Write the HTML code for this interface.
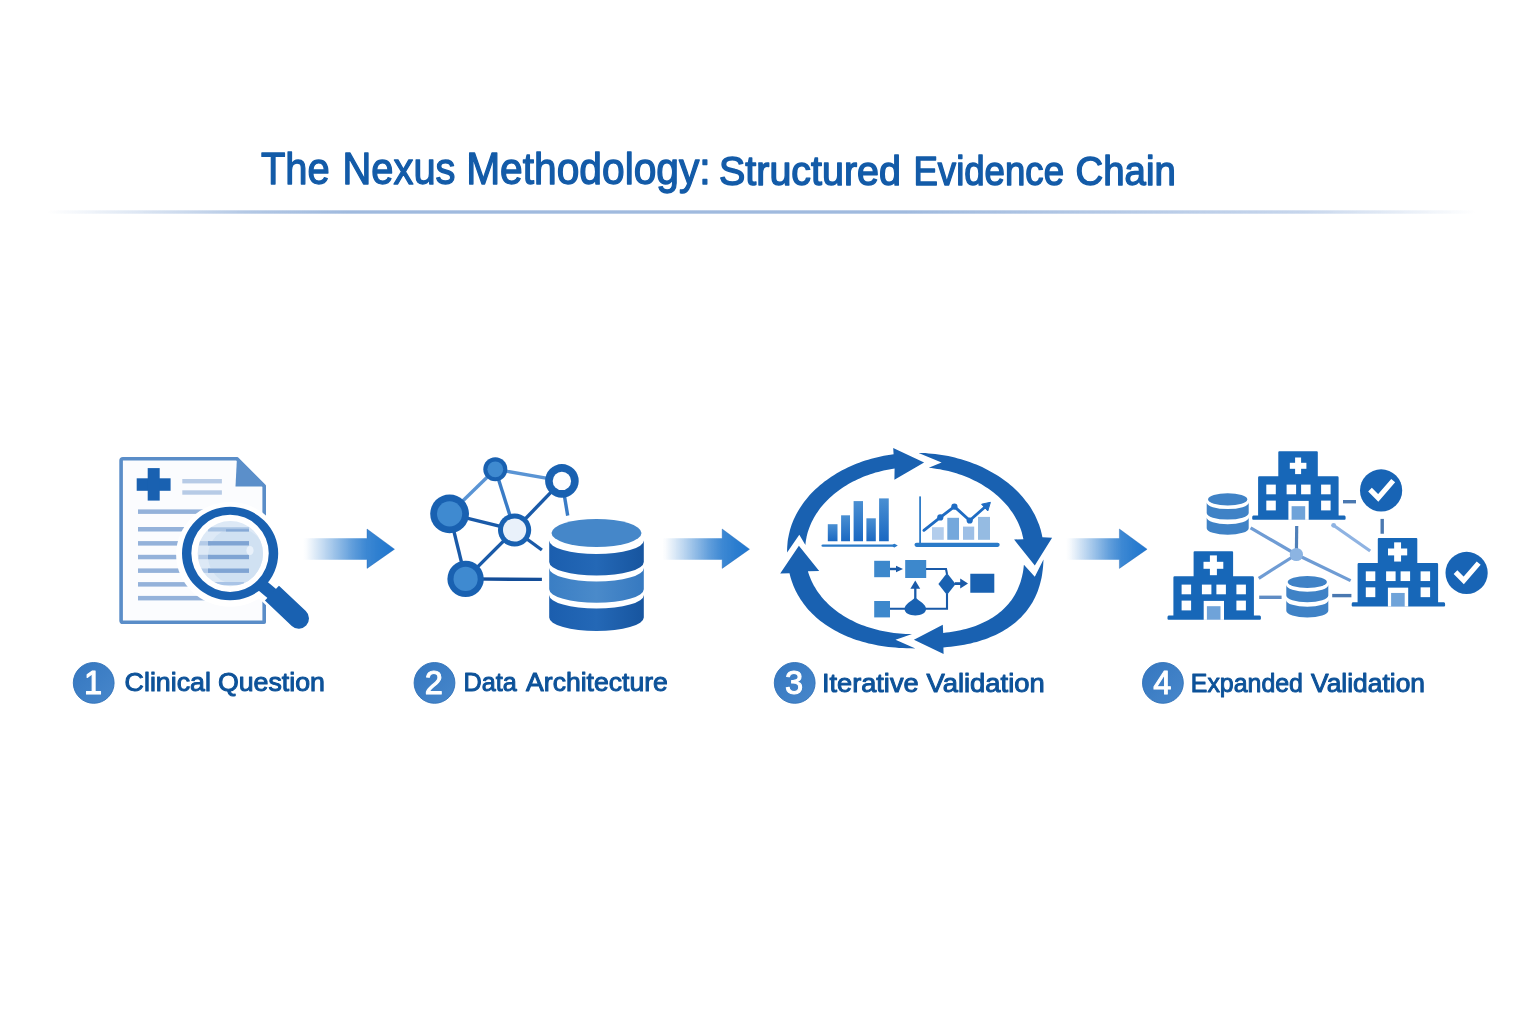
<!DOCTYPE html>
<html lang="en">
<head>
<meta charset="utf-8">
<title>The Nexus Methodology: Structured Evidence Chain</title>
<style>
html,body{margin:0;padding:0;background:#fff;}
body{width:1536px;height:1024px;overflow:hidden;font-family:"Liberation Sans",sans-serif;}
svg{display:block;position:absolute;left:0;top:0;will-change:transform;}
text{font-family:"Liberation Sans",sans-serif;}
</style>
</head>
<body>
<svg width="1536" height="1024" viewBox="0 0 1536 1024">
<defs>
<linearGradient id="rule" x1="0" x2="1" y1="0" y2="0">
<stop offset="0" stop-color="#a0bade" stop-opacity="0"/>
<stop offset="0.07" stop-color="#a0bade" stop-opacity="0.4"/>
<stop offset="0.14" stop-color="#a0bade" stop-opacity="0.8"/>
<stop offset="0.21" stop-color="#a0bade" stop-opacity="1"/>
<stop offset="0.6" stop-color="#a0bade" stop-opacity="1"/>
<stop offset="0.88" stop-color="#aec4e4" stop-opacity="0.7"/>
<stop offset="1" stop-color="#aec4e4" stop-opacity="0"/>
</linearGradient>
<linearGradient id="arr" x1="0" x2="1" y1="0" y2="0">
<stop offset="0" stop-color="#2e7fd0" stop-opacity="0"/>
<stop offset="0.04" stop-color="#2e7fd0" stop-opacity="0.03"/>
<stop offset="0.12" stop-color="#2e7fd0" stop-opacity="0.14"/>
<stop offset="0.23" stop-color="#2e7fd0" stop-opacity="0.3"/>
<stop offset="0.385" stop-color="#2e7fd0" stop-opacity="0.53"/>
<stop offset="0.54" stop-color="#2e7fd0" stop-opacity="0.76"/>
<stop offset="0.69" stop-color="#2e7fd0" stop-opacity="0.93"/>
<stop offset="0.85" stop-color="#2b7dcf" stop-opacity="1"/>
<stop offset="1" stop-color="#1f76d0" stop-opacity="1"/>
</linearGradient>
<linearGradient id="dbdark" x1="0" x2="1" y1="0" y2="0">
<stop offset="0" stop-color="#1b5eae"/>
<stop offset="0.5" stop-color="#2468b6"/>
<stop offset="1" stop-color="#17559f"/>
</linearGradient>
<linearGradient id="dbmid" x1="0" x2="1" y1="0" y2="0">
<stop offset="0" stop-color="#3a7ec4"/>
<stop offset="0.5" stop-color="#4a8aca"/>
<stop offset="1" stop-color="#3679c0"/>
</linearGradient>
<linearGradient id="bar" x1="0" x2="0" y1="0" y2="1">
<stop offset="0" stop-color="#4a8fd2"/>
<stop offset="1" stop-color="#1a68c2"/>
</linearGradient>
<radialGradient id="lens" cx="0.5" cy="0.5" r="0.5">
<stop offset="0" stop-color="#cfe0f2"/>
<stop offset="0.8" stop-color="#d8e6f5"/>
<stop offset="1" stop-color="#e8f0f9"/>
</radialGradient>
<linearGradient id="badge" x1="0" x2="1" y1="0" y2="1">
<stop offset="0" stop-color="#3577c0"/>
<stop offset="1" stop-color="#4787cb"/>
</linearGradient>
<clipPath id="lensclip"><circle cx="230.3" cy="553.6" r="32.7"/></clipPath>
</defs>

<g id="title">
<text fill="#135ba8" stroke="#135ba8" stroke-linejoin="round">
<tspan x="260.95" y="184.2" font-size="43.5" stroke-width="1.3" textLength="68.85" lengthAdjust="spacingAndGlyphs">The</tspan> <tspan x="342.56" y="184.2" font-size="43.5" stroke-width="1.3" textLength="112.92" lengthAdjust="spacingAndGlyphs">Nexus</tspan> <tspan x="466.15" y="184.2" font-size="43.5" stroke-width="1.3" textLength="244.54" lengthAdjust="spacingAndGlyphs">Methodology:</tspan> <tspan x="719.09" y="185.0" font-size="41" stroke-width="1.45" textLength="181.8" lengthAdjust="spacingAndGlyphs">Structured</tspan> <tspan x="913.43" y="185.0" font-size="41" stroke-width="1.45" textLength="150.57" lengthAdjust="spacingAndGlyphs">Evidence</tspan> <tspan x="1075.55" y="185.0" font-size="41" stroke-width="1.45" textLength="100.27" lengthAdjust="spacingAndGlyphs">Chain</tspan>
</text>
<rect x="48" y="210.3" width="1427" height="3.4" fill="url(#rule)"/>
</g>
<g id="flow-arrows">
<path d="M303 538.35 L367 538.35 L367 529.0 L394.5 549.2 L367 568.4000000000001 L367 559.85 L303 559.85 Z" fill="url(#arr)"/>
<path d="M367 538.35 L367 529.0 L394.5 549.2 L367 568.4000000000001 L367 559.85" fill="none" stroke="#1a62b4" stroke-opacity="0.55" stroke-width="0.7" stroke-linejoin="miter"/>
<path d="M662.3 538.35 L722.2 538.35 L722.2 529.0 L749.5 549.2 L722.2 568.4000000000001 L722.2 559.85 L662.3 559.85 Z" fill="url(#arr)"/>
<path d="M722.2 538.35 L722.2 529.0 L749.5 549.2 L722.2 568.4000000000001 L722.2 559.85" fill="none" stroke="#1a62b4" stroke-opacity="0.55" stroke-width="0.7" stroke-linejoin="miter"/>
<path d="M1066 538.35 L1119.4 538.35 L1119.4 529.0 L1147.1 549.2 L1119.4 568.4000000000001 L1119.4 559.85 L1066 559.85 Z" fill="url(#arr)"/>
<path d="M1119.4 538.35 L1119.4 529.0 L1147.1 549.2 L1119.4 568.4000000000001 L1119.4 559.85" fill="none" stroke="#1a62b4" stroke-opacity="0.55" stroke-width="0.7" stroke-linejoin="miter"/>
</g>
<g id="icon-document">
<path d="M123 458.7 L237 458.7 L264.2 486 L264.2 622.3 L123 622.3 Q121.1 622.3 121.1 620.4 L121.1 460.6 Q121.1 458.7 123 458.7 Z" fill="#fbfcfe" stroke="#5a8dc8" stroke-width="3.6" stroke-linejoin="round"/>
<path d="M237 457 L266 486.5 L235.5 486.5 Z" fill="#5b8fca"/>
<rect x="136.7" y="478.3" width="33.9" height="12.5" fill="#1961b1"/>
<rect x="147.7" y="468.1" width="12" height="32.5" fill="#1961b1"/>
<rect x="182.3" y="479" width="39.6" height="4.4" fill="#b7cbe6"/>
<rect x="182.3" y="490.3" width="39.6" height="4.4" fill="#b7cbe6"/>
<rect x="138" y="509.4" width="111.5" height="4.5" fill="#94b2da"/>
<rect x="138" y="527" width="111.5" height="4.5" fill="#94b2da"/>
<rect x="138" y="541.1" width="111.5" height="4.5" fill="#94b2da"/>
<rect x="138" y="554.8" width="111.5" height="4.5" fill="#94b2da"/>
<rect x="138" y="568.4" width="111.5" height="4.5" fill="#94b2da"/>
<rect x="138" y="582.1" width="111.5" height="4.5" fill="#94b2da"/>
<rect x="138" y="595.9" width="111.5" height="4.5" fill="#94b2da"/>
<ellipse cx="230.1" cy="554.4" rx="54" ry="52.3" fill="#ffffff"/>
<path d="M262 584 L286.5 607.5" stroke="#ffffff" stroke-width="25"/>
<circle cx="230.1" cy="553.4" r="39" fill="#ffffff"/>
<circle cx="230.3" cy="553.6" r="32.7" fill="#dde9f6"/>
<g clip-path="url(#lensclip)">
<circle cx="236.5" cy="556" r="28.5" fill="#d0e1f2"/>
<rect x="208" y="527.3" width="41" height="4.2" fill="#a9c4e4"/>
<rect x="226" y="529.2" width="23" height="2.3" fill="#86a9d6"/>
<rect x="198.5" y="541.1" width="12" height="4.4" fill="#b4cbe8"/>
<rect x="208" y="541.1" width="41" height="4.4" fill="#7fa4d3"/>
<rect x="198.5" y="554.8" width="12" height="4.4" fill="#b4cbe8"/>
<rect x="208" y="554.8" width="41" height="4.4" fill="#7fa4d3"/>
<rect x="198.5" y="568.5" width="12" height="4.4" fill="#b4cbe8"/>
<rect x="208" y="568.5" width="41" height="4.4" fill="#7fa4d3"/>
<rect x="214" y="582" width="30" height="3.2" fill="#a9c4e6"/>
<ellipse cx="250" cy="550.5" rx="3.6" ry="4.6" fill="#e9f1fa"/>
</g>
<path fill-rule="evenodd" d="M182 553.5 A48.1 46.8 0 1 0 278.2 553.5 A48.1 46.8 0 1 0 182 553.5 Z M191.35 553.3 A38.7 38.6 0 1 1 268.75 553.3 A38.7 38.6 0 1 1 191.35 553.3 Z" fill="#1961b1"/>
<path d="M258 582 L276 597" stroke="#1961b1" stroke-width="12.5"/>
<g transform="translate(271.95 593.05) rotate(43.5)"><path d="M0 -10.2 L37 -10.2 A10.2 10.2 0 0 1 37 10.2 L0 10.2 Z" fill="#1961b1"/></g>
</g>
<g id="icon-data">
<line x1="495.3" y1="469.3" x2="449.6" y2="513.8" stroke="#5a94d4" stroke-width="3.4"/>
<line x1="495.3" y1="469.3" x2="561.9" y2="480.9" stroke="#5a94d4" stroke-width="3.4"/>
<line x1="495.3" y1="469.3" x2="514.6" y2="530.0" stroke="#3a7cc6" stroke-width="3.4"/>
<line x1="561.9" y1="480.9" x2="514.6" y2="530.0" stroke="#1a5aa8" stroke-width="3.4"/>
<line x1="449.6" y1="513.8" x2="514.6" y2="530.0" stroke="#1a5aa8" stroke-width="3.4"/>
<line x1="449.6" y1="513.8" x2="465.6" y2="578.9" stroke="#1a5aa8" stroke-width="3.4"/>
<line x1="514.6" y1="530.0" x2="465.6" y2="578.9" stroke="#1a5aa8" stroke-width="3.4"/>
<line x1="561.9" y1="480.9" x2="567.7" y2="515.6" stroke="#3a7cc6" stroke-width="3.4"/>
<line x1="514.6" y1="530.0" x2="541.9" y2="550" stroke="#1a5aa8" stroke-width="3.4"/>
<line x1="465.6" y1="578.9" x2="541.9" y2="579.4" stroke="#134d98" stroke-width="3.4"/>
<circle cx="495.3" cy="469.3" r="12.0" fill="#1961b1"/>
<circle cx="495.3" cy="469.3" r="7.9" fill="#3f8ad0"/>
<circle cx="561.9" cy="480.9" r="16.8" fill="#1961b1"/>
<circle cx="561.9" cy="480.9" r="9.2" fill="#fcfdff"/>
<circle cx="449.6" cy="513.8" r="19.4" fill="#1961b1"/>
<circle cx="449.6" cy="513.8" r="12.6" fill="#3f8ad0"/>
<circle cx="514.6" cy="530.0" r="16.6" fill="#1961b1"/>
<circle cx="514.6" cy="530.0" r="11.6" fill="#e9f1fa"/>
<circle cx="465.6" cy="578.9" r="18.2" fill="#1961b1"/>
<circle cx="465.6" cy="578.9" r="12.1" fill="#3f8ad0"/>
<path d="M549.2 540.5 A47.3 13.5 0 0 0 643.8 540.5 L643.8 562 A47.3 13.5 0 0 1 549.2 562 Z" fill="url(#dbdark)"/>
<path d="M549.2 568 A47.3 13.5 0 0 0 643.8 568 L643.8 589.3 A47.3 13.5 0 0 1 549.2 589.3 Z" fill="url(#dbmid)"/>
<path d="M549.2 595 A47.3 13.5 0 0 0 643.8 595 L643.8 617.5 A47.3 13.5 0 0 1 549.2 617.5 Z" fill="url(#dbdark)"/>
<ellipse cx="596.5" cy="533" rx="45" ry="14" fill="#4587c9"/>
</g>
<g id="icon-cycle">
<path d="M787.1 552.6 L787.1 549.5 L787.2 546.9 L787.4 544.4 L787.6 541.9 L787.9 539.4 L788.4 536.9 L788.9 534.4 L789.5 532.0 L790.1 529.5 L790.9 527.1 L791.7 524.6 L792.6 522.2 L793.6 519.8 L794.7 517.4 L795.9 515.1 L797.1 512.8 L798.4 510.5 L799.8 508.2 L801.3 505.9 L802.8 503.7 L804.4 501.5 L806.1 499.4 L807.9 497.2 L809.7 495.1 L811.6 493.1 L813.6 491.1 L815.7 489.1 L817.8 487.2 L819.9 485.3 L822.2 483.4 L824.5 481.6 L826.8 479.9 L829.2 478.2 L831.7 476.5 L834.2 474.9 L836.8 473.3 L839.5 471.8 L842.1 470.3 L844.9 468.9 L847.7 467.6 L850.5 466.3 L853.3 465.0 L856.2 463.8 L859.2 462.7 L862.2 461.6 L865.2 460.6 L868.2 459.7 L871.3 458.8 L874.4 458.0 L877.6 457.2 L880.7 456.5 L883.9 455.8 L887.1 455.2 L890.4 454.7 L893.6 454.3 L893.2 447.9 L924.1 462.4 L894.4 479.8 L894.6 468.5 L891.8 468.9 L889.1 469.4 L886.3 470.0 L883.6 470.5 L880.9 471.2 L878.2 471.9 L875.5 472.6 L872.9 473.4 L870.3 474.3 L867.7 475.2 L865.2 476.1 L862.7 477.1 L860.2 478.2 L857.8 479.3 L855.4 480.4 L853.0 481.6 L850.7 482.8 L848.4 484.1 L846.2 485.4 L844.0 486.8 L841.8 488.2 L839.7 489.7 L837.7 491.2 L835.7 492.7 L833.8 494.3 L831.9 495.9 L830.1 497.6 L828.3 499.2 L826.6 501.0 L824.9 502.7 L823.3 504.5 L821.8 506.3 L820.3 508.1 L818.9 510.0 L817.6 511.9 L816.3 513.8 L815.1 515.8 L813.9 517.8 L812.9 519.8 L811.8 521.8 L810.9 523.8 L810.0 525.9 L809.2 527.9 L808.5 530.0 L807.8 532.1 L807.2 534.2 L806.7 536.3 L806.3 538.5 L805.9 540.6 L805.6 542.8 L805.4 544.9 L799.3 534.8 Z" fill="#1961b1"/>
<path d="M918.6 452.9 L921.9 453.0 L925.3 453.1 L928.6 453.4 L931.9 453.7 L935.2 454.0 L938.5 454.5 L941.8 455.0 L945.1 455.5 L948.3 456.1 L951.6 456.8 L954.8 457.6 L957.9 458.4 L961.1 459.3 L964.2 460.2 L967.3 461.2 L970.3 462.3 L973.3 463.4 L976.3 464.6 L979.2 465.8 L982.1 467.1 L984.9 468.5 L987.7 469.9 L990.4 471.4 L993.1 472.9 L995.8 474.4 L998.3 476.1 L1000.9 477.7 L1003.3 479.5 L1005.7 481.2 L1008.1 483.1 L1010.4 484.9 L1012.6 486.8 L1014.7 488.8 L1016.8 490.8 L1018.8 492.8 L1020.8 494.9 L1022.6 497.0 L1024.4 499.2 L1026.1 501.4 L1027.8 503.6 L1029.4 505.8 L1030.9 508.1 L1032.3 510.4 L1033.6 512.8 L1034.9 515.1 L1036.0 517.5 L1037.1 519.9 L1038.1 522.4 L1039.1 524.8 L1039.9 527.3 L1040.7 529.8 L1041.3 532.3 L1041.9 534.8 L1042.4 537.3 L1052.1 537.8 L1034.8 565.4 L1014.1 539.5 L1023.4 539.2 L1022.9 537.0 L1022.4 534.9 L1021.9 532.8 L1021.2 530.6 L1020.5 528.5 L1019.7 526.4 L1018.8 524.3 L1017.9 522.3 L1016.9 520.2 L1015.8 518.2 L1014.7 516.2 L1013.5 514.3 L1012.2 512.3 L1010.8 510.4 L1009.4 508.5 L1008.0 506.6 L1006.4 504.8 L1004.8 503.0 L1003.1 501.2 L1001.4 499.5 L999.6 497.7 L997.8 496.1 L995.9 494.4 L993.9 492.8 L991.9 491.3 L989.9 489.8 L987.8 488.3 L985.6 486.9 L983.4 485.5 L981.1 484.1 L978.8 482.8 L976.5 481.6 L974.1 480.4 L971.7 479.2 L969.2 478.1 L966.7 477.1 L964.2 476.1 L961.6 475.1 L959.0 474.2 L956.4 473.3 L953.7 472.5 L951.0 471.8 L948.3 471.1 L945.6 470.5 L942.8 469.9 L940.0 469.3 L937.2 468.9 L934.4 468.5 L931.6 468.1 L928.8 467.8 L941.6 462.4 Z" fill="#1961b1"/>
<path d="M1043.5 559.4 L1043.3 562.9 L1043.1 566.2 L1042.8 569.3 L1042.4 572.3 L1042.0 575.2 L1041.5 577.9 L1040.9 580.6 L1040.2 583.2 L1039.5 585.8 L1038.7 588.2 L1037.9 590.7 L1037.0 593.0 L1036.0 595.3 L1035.0 597.6 L1033.8 599.8 L1032.7 601.9 L1031.4 604.0 L1030.1 606.1 L1028.7 608.1 L1027.3 610.0 L1025.8 612.0 L1024.2 613.8 L1022.6 615.6 L1020.9 617.4 L1019.1 619.1 L1017.3 620.8 L1015.4 622.4 L1013.4 624.0 L1011.4 625.5 L1009.3 627.0 L1007.2 628.4 L1005.0 629.8 L1002.7 631.2 L1000.4 632.5 L998.0 633.7 L995.6 634.9 L993.1 636.0 L990.5 637.1 L987.9 638.2 L985.2 639.2 L982.4 640.1 L979.6 641.0 L976.7 641.9 L973.7 642.6 L970.7 643.4 L967.6 644.1 L964.4 644.7 L961.1 645.3 L957.8 645.8 L954.3 646.3 L950.8 646.8 L947.2 647.1 L943.4 647.5 L943.6 654.1 L913.9 639.8 L942.8 624.8 L943.2 632.9 L946.3 632.6 L949.3 632.2 L952.2 631.8 L955.1 631.3 L957.8 630.8 L960.5 630.2 L963.2 629.6 L965.8 628.9 L968.3 628.2 L970.8 627.5 L973.2 626.7 L975.5 625.9 L977.8 625.0 L980.1 624.1 L982.2 623.1 L984.4 622.1 L986.5 621.1 L988.5 620.0 L990.5 618.8 L992.4 617.7 L994.2 616.5 L996.0 615.2 L997.8 613.9 L999.5 612.6 L1001.2 611.2 L1002.8 609.8 L1004.3 608.3 L1005.8 606.8 L1007.2 605.3 L1008.6 603.7 L1009.9 602.1 L1011.2 600.4 L1012.4 598.7 L1013.5 597.0 L1014.6 595.2 L1015.7 593.3 L1016.6 591.5 L1017.6 589.5 L1018.4 587.6 L1019.2 585.6 L1020.0 583.5 L1020.7 581.4 L1021.3 579.2 L1021.9 577.0 L1022.4 574.7 L1022.9 572.4 L1023.3 569.9 L1023.6 567.4 L1023.9 564.8 L1034.8 576.8 Z" fill="#1961b1"/>
<path d="M915.4 648.4 L910.7 648.3 L906.7 648.2 L902.8 648.1 L899.1 647.9 L895.4 647.6 L891.9 647.3 L888.4 646.9 L884.9 646.5 L881.6 646.0 L878.2 645.4 L875.0 644.8 L871.8 644.1 L868.6 643.4 L865.5 642.6 L862.4 641.7 L859.4 640.8 L856.4 639.9 L853.5 638.9 L850.6 637.8 L847.8 636.7 L845.0 635.5 L842.3 634.3 L839.6 633.0 L837.0 631.6 L834.5 630.3 L832.0 628.8 L829.6 627.3 L827.2 625.8 L824.9 624.2 L822.6 622.6 L820.4 620.9 L818.3 619.2 L816.2 617.4 L814.2 615.6 L812.3 613.7 L810.4 611.8 L808.6 609.9 L806.9 607.9 L805.2 605.8 L803.6 603.7 L802.1 601.6 L800.6 599.5 L799.3 597.3 L797.9 595.0 L796.7 592.8 L795.5 590.5 L794.4 588.1 L793.4 585.7 L792.5 583.3 L791.6 580.8 L790.8 578.3 L790.1 575.8 L789.5 573.2 L780.2 573.4 L798.9 545.7 L819.2 571.1 L807.9 571.3 L808.6 573.4 L809.3 575.5 L810.1 577.6 L811.0 579.7 L811.9 581.7 L812.9 583.7 L813.9 585.7 L815.1 587.6 L816.2 589.6 L817.5 591.4 L818.8 593.3 L820.2 595.1 L821.6 596.9 L823.1 598.7 L824.7 600.4 L826.3 602.1 L827.9 603.8 L829.7 605.4 L831.5 607.0 L833.3 608.5 L835.2 610.1 L837.1 611.5 L839.1 613.0 L841.2 614.3 L843.3 615.7 L845.4 617.0 L847.6 618.3 L849.8 619.5 L852.1 620.6 L854.4 621.8 L856.8 622.9 L859.2 623.9 L861.7 624.9 L864.2 625.8 L866.7 626.7 L869.3 627.6 L871.9 628.3 L874.5 629.1 L877.2 629.8 L879.9 630.4 L882.6 631.0 L885.4 631.6 L888.2 632.1 L891.0 632.5 L893.9 632.9 L896.8 633.2 L899.7 633.5 L902.7 633.7 L905.7 633.9 L908.8 634.0 L912.0 634.1 L895.5 639.8 Z" fill="#1961b1"/>
<rect x="827.8" y="524.2" width="9.7" height="17.05" fill="url(#bar)"/>
<rect x="841.1" y="515.3" width="8.9" height="25.95" fill="url(#bar)"/>
<rect x="853.6" y="501.1" width="9.4" height="40.15" fill="url(#bar)"/>
<rect x="866.4" y="518.3" width="9.4" height="22.95" fill="url(#bar)"/>
<rect x="879.1" y="498.4" width="9.65" height="42.85" fill="url(#bar)"/>
<path d="M821.4 545.7 Q821.4 544.6 823 544.6 L892.5 544.5 L894.5 543.7 L897.8 545.6 L894.5 547.5 L892.5 546.8 L823 546.8 Q821.4 546.8 821.4 545.7 Z" fill="#2a7ac8"/>
<rect x="919.2" y="496.4" width="1.8" height="48.5" fill="#2f7cc8"/>
<rect x="914.5" y="542.7" width="85.2" height="4.2" rx="2.1" fill="#2a7ac8"/>
<rect x="932" y="527.2" width="11.75" height="12.6" fill="#b3cdec"/>
<rect x="947.3" y="517.8" width="11.7" height="22.0" fill="#74a8dc"/>
<rect x="963" y="526.6" width="11.2" height="13.2" fill="#9dbfe6"/>
<rect x="978" y="516.9" width="12" height="22.9" fill="#95bbe2"/>
<polyline points="923.9,530.3 940.3,517.4 954.4,506.6 969.7,520.5 985,507" fill="none" stroke="#1f6cc3" stroke-width="2.9" stroke-linejoin="round" stroke-linecap="round"/>
<path d="M990.4 502.3 L981.6 504.2 L987.8 511 Z" fill="#1f6cc3" stroke="#1f6cc3" stroke-width="1" stroke-linejoin="round"/>
<circle cx="940.3" cy="517.4" r="3.1" fill="#1f6cc3"/>
<circle cx="954.4" cy="506.6" r="3.1" fill="#1f6cc3"/>
<circle cx="969.7" cy="520.5" r="3.1" fill="#1f6cc3"/>
<rect x="874.2" y="560.8" width="15.8" height="16.4" fill="#3d88cc"/>
<rect x="905.2" y="560" width="21" height="18" fill="#3d88cc"/>
<rect x="874.2" y="601" width="15.8" height="16.4" fill="#3d88cc"/>
<rect x="970.3" y="573.75" width="24" height="19" fill="#1961b1"/>
<path d="M947 572.9 L955.6 583.9 L947 594.9 L938.4 583.9 Z" fill="#1961b1"/>
<path d="M926 569 L946 569 L947 574" fill="none" stroke="#1a5aa8" stroke-width="2.1"/>
<path d="M890 569 L899 569" fill="none" stroke="#1a5aa8" stroke-width="2.4"/>
<path d="M896 565.8 L903 569 L896 572.2 Z" fill="#1a5aa8"/>
<path d="M955 583.6 L962 583.6" fill="none" stroke="#1a5aa8" stroke-width="2.8"/>
<path d="M960.2 578.6 L968 583.6 L960.2 588.6 Z" fill="#1a5aa8"/>
<path d="M890 608.75 L947 608.75 L947 594" fill="none" stroke="#1a5aa8" stroke-width="2.1"/>
<path d="M915.3 600 L915.3 587" fill="none" stroke="#1a5aa8" stroke-width="2.3"/>
<path d="M910.4 588.8 L915.3 580.6 L920.2 588.8 Z" fill="#1a5aa8"/>
<path d="M904.6 609 C904.6 604.5 910.5 601.8 915.3 597.6 C920.1 601.8 926 604.5 926 609 C926 613.3 921 615.4 915.3 615.4 C909.6 615.4 904.6 613.3 904.6 609 Z" fill="#1961b1"/>
</g>
<g id="icon-network">
<line x1="1250.6" y1="527.8" x2="1296.4" y2="554.5" stroke="#6f9cd4" stroke-width="3.2"/>
<line x1="1296.7" y1="526" x2="1296.4" y2="554.5" stroke="#4f7fb8" stroke-width="3.2"/>
<line x1="1296.4" y1="554.5" x2="1258.75" y2="578.3" stroke="#6f9cd4" stroke-width="3.2"/>
<line x1="1296.4" y1="554.5" x2="1350.6" y2="580.6" stroke="#6f9cd4" stroke-width="3.2"/>
<line x1="1333.4" y1="525.2" x2="1370.2" y2="551" stroke="#8fb3e2" stroke-width="3.2"/>
<circle cx="1333.6" cy="525.3" r="2.4" fill="#8fb3e2"/>
<line x1="1343" y1="501.7" x2="1356" y2="501.7" stroke="#4a78b0" stroke-width="3.4"/>
<line x1="1382.2" y1="518.9" x2="1382.2" y2="533.75" stroke="#4a78b0" stroke-width="3.4"/>
<line x1="1259.2" y1="597.3" x2="1281.6" y2="597.3" stroke="#5f8cc4" stroke-width="3.4"/>
<line x1="1332.2" y1="595.6" x2="1351.4" y2="595.6" stroke="#4a78b0" stroke-width="3.4"/>
<circle cx="1296.4" cy="554.5" r="6.6" fill="#8cb4e2"/>
<g transform="translate(0 0)">
<path d="M1278.3 452.3 Q1278.3 451.25 1279.3 451.25 L1316.8 451.25 Q1317.8 451.25 1317.8 452.3 L1317.8 476.25 L1337.4 476.25 Q1338.6 476.25 1338.6 477.5 L1338.6 515.4 L1344.4 515.6 Q1345.6 515.7 1345.6 516.9 L1345.6 518.7 Q1345.6 519.7 1344.6 519.7 L1253.2 519.7 Q1252.2 519.7 1252.2 518.7 L1252.2 517.2 Q1252.2 515.7 1253.4 515.6 L1258.1 515.4 L1258.1 477.5 Q1258.1 476.25 1259.3 476.25 L1278.3 476.25 Z" fill="#1767b8"/>
<rect x="1289.80" y="462.80" width="16.6" height="6.0" fill="#ffffff"/>
<rect x="1295.10" y="457.50" width="6.0" height="16.6" fill="#ffffff"/>
<rect x="1266.3000000000002" y="484.6" width="9.5" height="9.7" fill="#ffffff"/>
<rect x="1286.6000000000001" y="484.6" width="9.5" height="9.7" fill="#ffffff"/>
<rect x="1301.1000000000001" y="484.6" width="9.5" height="9.7" fill="#ffffff"/>
<rect x="1321.1000000000001" y="484.6" width="9.5" height="9.7" fill="#ffffff"/>
<rect x="1266.3000000000002" y="500.6" width="9.5" height="9.8" fill="#ffffff"/>
<rect x="1321.1000000000001" y="500.6" width="9.5" height="9.8" fill="#ffffff"/>
<rect x="1288.4" y="500.9" width="20.3" height="19" fill="#ffffff"/>
<rect x="1291.6" y="506.2" width="13.6" height="13.5" fill="#6fa3d9"/>
</g>
<g transform="translate(-84.7 100)">
<path d="M1278.3 452.3 Q1278.3 451.25 1279.3 451.25 L1316.8 451.25 Q1317.8 451.25 1317.8 452.3 L1317.8 476.25 L1337.4 476.25 Q1338.6 476.25 1338.6 477.5 L1338.6 515.4 L1344.4 515.6 Q1345.6 515.7 1345.6 516.9 L1345.6 518.7 Q1345.6 519.7 1344.6 519.7 L1253.2 519.7 Q1252.2 519.7 1252.2 518.7 L1252.2 517.2 Q1252.2 515.7 1253.4 515.6 L1258.1 515.4 L1258.1 477.5 Q1258.1 476.25 1259.3 476.25 L1278.3 476.25 Z" fill="#1767b8"/>
<rect x="1288.20" y="461.80" width="19.8" height="7.0" fill="#ffffff"/>
<rect x="1294.60" y="455.40" width="7.0" height="19.8" fill="#ffffff"/>
<rect x="1266.3000000000002" y="484.6" width="9.5" height="9.7" fill="#ffffff"/>
<rect x="1286.6000000000001" y="484.6" width="9.5" height="9.7" fill="#ffffff"/>
<rect x="1301.1000000000001" y="484.6" width="9.5" height="9.7" fill="#ffffff"/>
<rect x="1321.1000000000001" y="484.6" width="9.5" height="9.7" fill="#ffffff"/>
<rect x="1266.3000000000002" y="500.6" width="9.5" height="9.8" fill="#ffffff"/>
<rect x="1321.1000000000001" y="500.6" width="9.5" height="9.8" fill="#ffffff"/>
<rect x="1288.4" y="500.9" width="20.3" height="19" fill="#ffffff"/>
<rect x="1291.6" y="506.2" width="13.6" height="13.5" fill="#6fa3d9"/>
</g>
<g transform="translate(99.5 86.75)">
<path d="M1278.3 452.3 Q1278.3 451.25 1279.3 451.25 L1316.8 451.25 Q1317.8 451.25 1317.8 452.3 L1317.8 476.25 L1337.4 476.25 Q1338.6 476.25 1338.6 477.5 L1338.6 515.4 L1344.4 515.6 Q1345.6 515.7 1345.6 516.9 L1345.6 518.7 Q1345.6 519.7 1344.6 519.7 L1253.2 519.7 Q1252.2 519.7 1252.2 518.7 L1252.2 517.2 Q1252.2 515.7 1253.4 515.6 L1258.1 515.4 L1258.1 477.5 Q1258.1 476.25 1259.3 476.25 L1278.3 476.25 Z" fill="#1767b8"/>
<rect x="1288.50" y="461.75" width="19.2" height="6.9" fill="#ffffff"/>
<rect x="1294.65" y="455.60" width="6.9" height="19.2" fill="#ffffff"/>
<rect x="1266.3000000000002" y="484.6" width="9.5" height="9.7" fill="#ffffff"/>
<rect x="1286.6000000000001" y="484.6" width="9.5" height="9.7" fill="#ffffff"/>
<rect x="1301.1000000000001" y="484.6" width="9.5" height="9.7" fill="#ffffff"/>
<rect x="1321.1000000000001" y="484.6" width="9.5" height="9.7" fill="#ffffff"/>
<rect x="1266.3000000000002" y="500.6" width="9.5" height="9.8" fill="#ffffff"/>
<rect x="1321.1000000000001" y="500.6" width="9.5" height="9.8" fill="#ffffff"/>
<rect x="1288.4" y="500.9" width="20.3" height="19" fill="#ffffff"/>
<rect x="1291.6" y="506.2" width="13.6" height="13.5" fill="#6fa3d9"/>
</g>
<g transform="translate(0 0)">
<path d="M1206.7 502.5 A21 6.6 0 0 0 1248.7 502.5 L1248.7 513 A21 6.6 0 0 1 1206.7 513 Z" fill="#3f82c6"/>
<path d="M1206.7 517.6 A21 6.6 0 0 0 1248.7 517.6 L1248.7 528.2 A21 6.6 0 0 1 1206.7 528.2 Z" fill="#3f82c6"/>
<ellipse cx="1227.7" cy="499.4" rx="19.6" ry="6.1" fill="#3f82c6"/>
</g>
<g transform="translate(79.6 82.6)">
<path d="M1206.7 502.5 A21 6.6 0 0 0 1248.7 502.5 L1248.7 513 A21 6.6 0 0 1 1206.7 513 Z" fill="#3f82c6"/>
<path d="M1206.7 517.6 A21 6.6 0 0 0 1248.7 517.6 L1248.7 528.2 A21 6.6 0 0 1 1206.7 528.2 Z" fill="#3f82c6"/>
<ellipse cx="1227.7" cy="499.4" rx="19.6" ry="6.1" fill="#3f82c6"/>
</g>
<circle cx="1381.1" cy="490.4" r="21.1" fill="#1864b5"/>
<path d="M1370.00 489.70 L1378.20 497.90 L1393.20 480.60" fill="none" stroke="#ffffff" stroke-width="5.2" stroke-linejoin="miter"/>
<circle cx="1466.6" cy="572.9" r="21.1" fill="#1864b5"/>
<path d="M1455.50 572.20 L1463.70 580.40 L1478.70 563.10" fill="none" stroke="#ffffff" stroke-width="5.2" stroke-linejoin="miter"/>
</g>
<g id="labels">
<circle cx="93.7" cy="682.9" r="20.4" fill="url(#badge)" stroke="#2f70b8" stroke-width="0.9"/>
<text x="93.10000000000001" y="693.7" font-size="32.6" fill="#ffffff" stroke="#ffffff" stroke-width="1.0" stroke-linejoin="round" text-anchor="middle">1</text>
<circle cx="434.5" cy="682.9" r="20.4" fill="url(#badge)" stroke="#2f70b8" stroke-width="0.9"/>
<text x="433.9" y="693.7" font-size="32.6" fill="#ffffff" stroke="#ffffff" stroke-width="1.0" stroke-linejoin="round" text-anchor="middle">2</text>
<circle cx="794.7" cy="682.9" r="20.4" fill="url(#badge)" stroke="#2f70b8" stroke-width="0.9"/>
<text x="794.1" y="693.7" font-size="32.6" fill="#ffffff" stroke="#ffffff" stroke-width="1.0" stroke-linejoin="round" text-anchor="middle">3</text>
<circle cx="1162.9" cy="682.9" r="20.4" fill="url(#badge)" stroke="#2f70b8" stroke-width="0.9"/>
<text x="1162.3000000000002" y="693.7" font-size="32.6" fill="#ffffff" stroke="#ffffff" stroke-width="1.0" stroke-linejoin="round" text-anchor="middle">4</text>
<text fill="#0d5299" stroke="#0d5299" stroke-linejoin="round">
<tspan x="124.62" y="690.5" font-size="26.5" stroke-width="1.0" textLength="86.31" lengthAdjust="spacingAndGlyphs">Clinical</tspan> <tspan x="217.95" y="690.5" font-size="26.5" stroke-width="1.0" textLength="107.0" lengthAdjust="spacingAndGlyphs">Question</tspan>
</text>
<text fill="#0d5299" stroke="#0d5299" stroke-linejoin="round">
<tspan x="463.58" y="690.8" font-size="26.5" stroke-width="1.0" textLength="53.33" lengthAdjust="spacingAndGlyphs">Data</tspan> <tspan x="526.1" y="690.8" font-size="26.5" stroke-width="1.0" textLength="141.67" lengthAdjust="spacingAndGlyphs">Architecture</tspan>
</text>
<text fill="#0d5299" stroke="#0d5299" stroke-linejoin="round">
<tspan x="821.99" y="691.8" font-size="26.5" stroke-width="1.0" textLength="96.61" lengthAdjust="spacingAndGlyphs">Iterative</tspan> <tspan x="926.45" y="691.8" font-size="26.5" stroke-width="1.0" textLength="118.27" lengthAdjust="spacingAndGlyphs">Validation</tspan>
</text>
<text fill="#0d5299" stroke="#0d5299" stroke-linejoin="round">
<tspan x="1190.77" y="692.1" font-size="26.5" stroke-width="1.0" textLength="112.19" lengthAdjust="spacingAndGlyphs">Expanded</tspan> <tspan x="1311.04" y="692.1" font-size="26.5" stroke-width="1.0" textLength="113.98" lengthAdjust="spacingAndGlyphs">Validation</tspan>
</text>
</g>
</svg>
</body>
</html>
